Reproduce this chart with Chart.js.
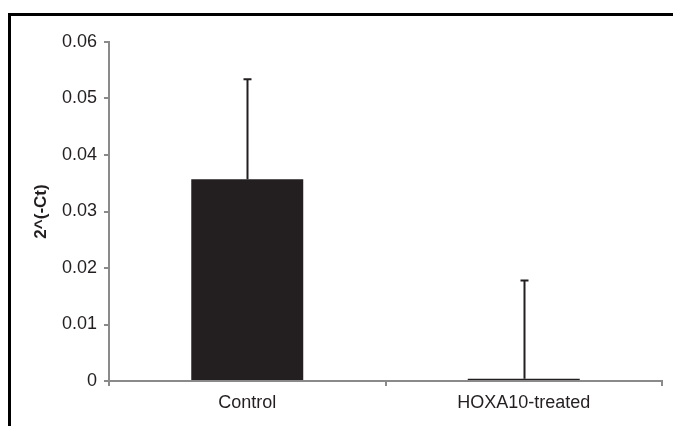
<!DOCTYPE html>
<html>
<head>
<meta charset="utf-8">
<script src="https://cdn.jsdelivr.net/npm/chart.js@4/dist/chart.umd.min.js"></script>
<style>
  html, body { margin: 0; padding: 0; background: #fff; }
  #wrap { position: relative; width: 673px; height: 426px; }
  #frame { position: absolute; left: 8px; top: 13px; width: 665px; height: 413px;
           border-top: 3px solid #000; border-left: 3px solid #000; box-sizing: border-box; }
  canvas { position: absolute; left: 0; top: 0; }
</style>
</head>
<body>
<div id="wrap">
  <div id="frame"></div>
  <canvas id="myChart" width="673" height="426"></canvas>
</div>
<script>
// data
var categories = ['Control', 'HOXA10-treated'];
var means = [0.0357, 0.0004];
var upperErr = [0.0534, 0.0178];   // top of the error whisker
var yTicks = [0, 0.01, 0.02, 0.03, 0.04, 0.05, 0.06];

var ink = '#231f20';
var axisGrey = '#8a8a8a';

// draws the one-sided (upper) error bars
var errorBars = {
    id: 'errorBars',
    afterDatasetsDraw: function (chart) {
        var ctx = chart.ctx;
        var meta = chart.getDatasetMeta(0);
        var y = chart.scales.y;
        ctx.save();
        ctx.strokeStyle = ink;
        ctx.lineWidth = 2;
        for (var i = 0; i < meta.data.length; i++) {
            var x = Math.round(meta.data[i].x) + 0.5;
            var top = y.getPixelForValue(upperErr[i]);
            var base = y.getPixelForValue(means[i]);
            ctx.beginPath();
            ctx.moveTo(x, base);
            ctx.lineTo(x, top);
            ctx.moveTo(x - 4, top);
            ctx.lineTo(x + 4, top);
            ctx.stroke();
        }
        ctx.restore();
    }
};

var ctx = document.getElementById('myChart');
window.myBar = new Chart(ctx, {
    type: 'bar',
    data: {
        labels: categories,
        datasets: [{
            data: means,
            backgroundColor: ink,
            borderWidth: 0,
            categoryPercentage: 1,
            barPercentage: 0.405
        }]
    },
    options: {
        responsive: false,
        animation: false,
        layout: { padding: { left: 31, top: 42, right: 11, bottom: 11 } },
        plugins: { legend: { display: false }, tooltip: { enabled: false } },
        scales: {
            x: {
                afterFit: function (s) { s.height = 34; },
                border: { color: axisGrey, width: 2 },
                grid: { drawOnChartArea: false, tickLength: 5, color: axisGrey, lineWidth: 2, offset: true },
                ticks: { color: ink, font: { family: 'Liberation Sans', size: 18 }, padding: 6 }
            },
            y: {
                min: 0,
                max: 0.06,
                afterFit: function (s) { s.width = 78; },
                afterBuildTicks: function (s) {
                    s.ticks = yTicks.map(function (v) { return { value: v }; });
                },
                border: { color: axisGrey, width: 2 },
                grid: { drawOnChartArea: false, tickLength: 5, color: axisGrey, lineWidth: 2 },
                ticks: {
                    color: ink,
                    font: { family: 'Liberation Sans', size: 18 },
                    padding: 7,
                    callback: function (v) { return v === 0 ? '0' : v.toFixed(2); }
                },
                title: {
                    display: true,
                    text: '2^(-Ct)',
                    color: ink,
                    font: { family: 'Liberation Sans', size: 17, weight: 'bold' },
                    padding: { top: 0, bottom: 0 }
                }
            }
        }
    },
    plugins: [errorBars]
});
</script>
</body>
</html>
